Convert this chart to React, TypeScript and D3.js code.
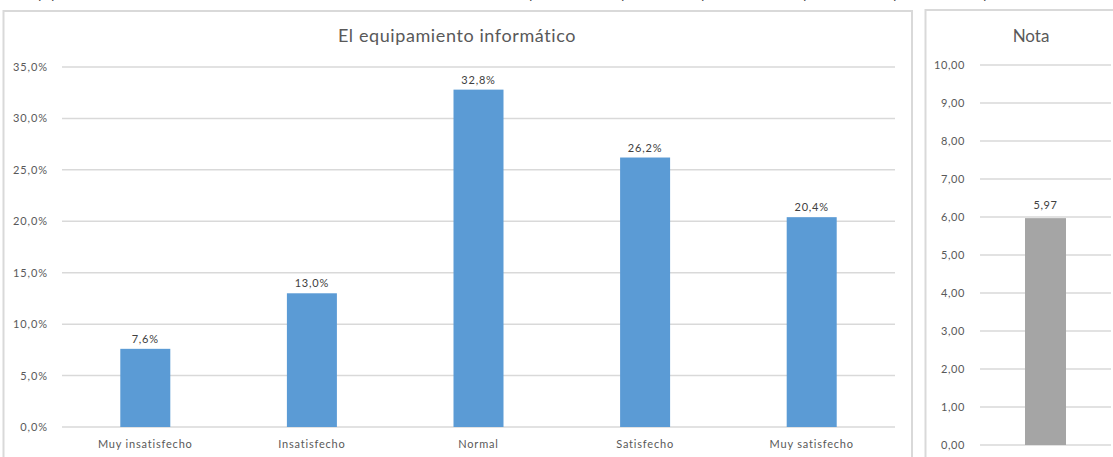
import React from "react";
import * as d3 from "d3";

const categories = ["Muy insatisfecho", "Insatisfecho", "Normal", "Satisfecho", "Muy satisfecho"];
const percentValues = [7.6, 13.0, 32.8, 26.2, 20.4];
const percentTicks = [0, 5, 10, 15, 20, 25, 30, 35];
const notaCategories = ["Nota"];
const notaValues = [5.97];
const notaTicks = [0, 1, 2, 3, 4, 5, 6, 7, 8, 9, 10];
const topFragments = [42, 55, 533, 625, 705, 807, 897, 987];

const W = 1113;
const H = 457;
const FONT = "Lato, 'Noto Sans', sans-serif";
const GRID = "#d9d9d9";
const TXT = "#595959";

const fmt1 = (v: number) => v.toFixed(1).replace(".", ",");
const fmt2 = (v: number) => v.toFixed(2).replace(".", ",");

export default function App() {
  // Left chart
  const x = d3.scaleBand<string>().domain(categories).range([62, 895]).paddingInner(0.3).paddingOuter(0.15);
  const y = d3.scaleLinear().domain([0, 35]).range([427, 67]);
  const bw = 50;

  // Right chart
  const x2 = d3.scaleBand<string>().domain(notaCategories).range([980, 1111]).padding(0.3);
  const y2 = d3.scaleLinear().domain([0, 10]).range([445, 65]);
  const bw2 = 41;

  return (
    <svg width={W} height={H} style={{ position: "absolute", left: 0, top: 0, background: "#fff" }} fontFamily={FONT}>
      {/* fragments of text from the line above */}
      {topFragments.map((fx, i) => (
        <text key={i} x={fx} y={-1} fontSize={13} fill="#404040" textAnchor="middle">p</text>
      ))}

      {/* left panel */}
      <path d={`M3.5,${H + 2} V11 H912 V${H + 2}`} fill="none" stroke={GRID} strokeWidth={2} />
      <text x={457} y={42} fontSize={18} fill={TXT} textAnchor="middle" letterSpacing={0.6}>El equipamiento informático</text>
      {percentTicks.map((t) => (
        <g key={t}>
          <line x1={62} x2={895} y1={y(t)} y2={y(t)} stroke={GRID} strokeWidth={1.5} />
          <text x={48} y={y(t) + 4} fontSize={11} fill={TXT} textAnchor="end" letterSpacing={0.9}>{fmt1(t)}%</text>
        </g>
      ))}
      {categories.map((c, i) => {
        const cx = (x(c) as number) + x.bandwidth() / 2;
        const v = percentValues[i];
        return (
          <g key={c}>
            <rect x={cx - bw / 2} y={y(v)} width={bw} height={y(0) - y(v)} fill="#5B9BD5" />
            <text x={cx} y={y(v) - 6} fontSize={11} fill="#404040" textAnchor="middle" letterSpacing={0.8}>{fmt1(v)}%</text>
            <text x={cx} y={448} fontSize={11} fill={TXT} textAnchor="middle" letterSpacing={0.8}>{c}</text>
          </g>
        );
      })}

      {/* right panel */}
      <path d={`M925.5,${H + 2} V10 H${W + 5}`} fill="none" stroke={GRID} strokeWidth={2} />
      <text x={1031} y={42} fontSize={17} fill={TXT} textAnchor="middle">Nota</text>
      {notaTicks.map((t) => (
        <g key={t}>
          <line x1={980} x2={1111} y1={y2(t)} y2={y2(t)} stroke={GRID} strokeWidth={1.5} />
          <text x={965} y={y2(t) + 4} fontSize={11} fill={TXT} textAnchor="end" letterSpacing={0.6}>{fmt2(t)}</text>
        </g>
      ))}
      {notaCategories.map((c, i) => {
        const cx = (x2(c) as number) + x2.bandwidth() / 2;
        const v = notaValues[i];
        return (
          <g key={c}>
            <rect x={cx - bw2 / 2} y={y2(v)} width={bw2} height={y2(0) - y2(v)} fill="#A5A5A5" />
            <text x={cx} y={y2(v) - 9} fontSize={11} fill="#404040" textAnchor="middle" letterSpacing={0.6}>{fmt2(v)}</text>
          </g>
        );
      })}
    </svg>
  );
}
